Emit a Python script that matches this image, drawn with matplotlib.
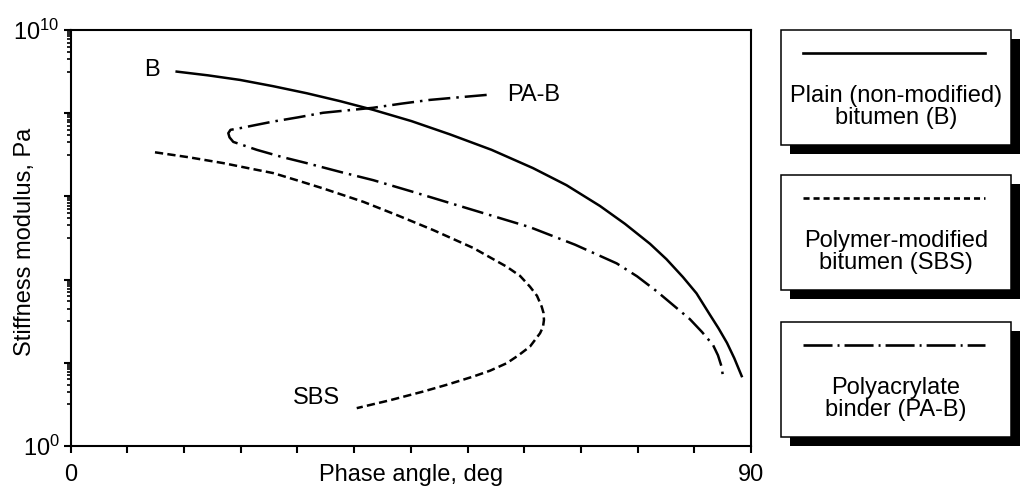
import numpy as np
import matplotlib.pyplot as plt
from matplotlib.patches import Rectangle

plt.rcParams['font.family'] = ['Liberation Sans', 'DejaVu Sans']
plt.rcParams['mathtext.default'] = 'regular'

# phase angle (deg) and log10 of stiffness (Pa)
b_angle = [14.02, 18.16, 22.40, 26.76, 31.22, 35.63, 40.03, 45.08, 50.19, 55.67,
           61.16, 65.59, 70.02, 73.33, 76.64, 78.82, 81.00, 82.79, 84.58, 85.70,
           86.82, 87.79, 88.77]
b_logs = [9.00, 8.91, 8.80, 8.65, 8.48, 8.29, 8.08, 7.81, 7.49, 7.12,
          6.68, 6.27, 5.77, 5.34, 4.86, 4.49, 4.06, 3.67, 3.15, 2.83,
          2.48, 2.11, 1.68]

pab_angle = [55.03, 51.24, 47.53, 43.76, 39.99, 36.68, 33.38, 30.07, 26.80, 24.58,
             22.40, 21.14, 20.85, 21.01, 21.51, 24.61, 27.89, 31.22, 35.63, 40.03,
             45.08, 50.18, 55.47, 60.76, 66.71, 72.23, 74.92, 77.52, 81.91, 83.52,
             84.97, 85.63, 86.12, 86.33]
pab_logs = [8.44, 8.38, 8.32, 8.23, 8.13, 8.07, 8.01, 7.90, 7.80, 7.72,
            7.64, 7.60, 7.52, 7.42, 7.31, 7.12, 6.95, 6.80, 6.59, 6.39,
            6.12, 5.84, 5.55, 5.26, 4.84, 4.39, 4.08, 3.72, 3.05, 2.74,
            2.43, 2.18, 1.90, 1.61]

sbs_angle = [11.15, 15.65, 20.19, 23.46, 26.80, 30.07, 33.42, 38.71, 43.30, 47.97,
             53.26, 57.68, 59.44, 60.76, 61.69, 62.31, 62.55, 62.61, 62.48, 62.09,
             60.76, 59.24, 57.68, 55.47, 53.26, 49.91, 46.65, 42.24, 37.84]
sbs_logs = [7.06, 6.94, 6.80, 6.68, 6.56, 6.38, 6.19, 5.87, 5.54, 5.19,
            4.76, 4.31, 4.09, 3.83, 3.61, 3.35, 3.20, 3.03, 2.86, 2.71,
            2.39, 2.18, 1.99, 1.81, 1.67, 1.48, 1.31, 1.10, 0.91]

legend_texts = ['Plain (non-modified)\nbitumen (B)',
                'Polymer-modified\nbitumen (SBS)',
                'Polyacrylate\nbinder (PA-B)']

W, H = 1021, 488
fs = 17
fig = plt.figure(figsize=(W / 100, H / 100), dpi=100)

# overlay in pixel units for the boxed legend
ov = fig.add_axes([0, 0, 1, 1])
ov.set_xlim(0, W)
ov.set_ylim(H, 0)
ov.axis('off')

ax = fig.add_axes([70.7 / W, (H - 446) / H, (751 - 70.7) / W, (446 - 30) / H])

lw = 1.8
solid_style = '-'
dash_style = (0, (3.3, 1.7))
dashdot_style = (0, (8.8, 2.4, 1.0, 2.4))

ax.plot(b_angle, 10 ** np.array(b_logs), color='black', lw=lw, ls=solid_style,
        solid_joinstyle='round')
ax.plot(pab_angle, 10 ** np.array(pab_logs), color='black', lw=lw, ls=dashdot_style)
ax.plot(sbs_angle, 10 ** np.array(sbs_logs), color='black', lw=lw, ls=dash_style)

ax.set_yscale('log')
ax.set_xlim(0, 90)
ax.set_ylim(1, 1e10)

xt = np.arange(0, 90.1, 7.5)
ax.set_xticks(xt)
ax.set_xticklabels(['0'] + [''] * (len(xt) - 2) + ['90'])

yt = [10.0 ** k for k in range(0, 11, 2)]
ax.set_yticks(yt)
ax.set_yticklabels(['$10^{0}$', '', '', '', '', '$10^{10}$'])
minor = [m * 10.0 ** k for k in range(1, 10, 2) for m in range(1, 10)]
ax.set_yticks(minor, minor=True)
ax.yaxis.set_minor_formatter(plt.NullFormatter())

for s in ax.spines.values():
    s.set_linewidth(1.5)
ax.tick_params(which='major', direction='out', length=5, width=1.5,
               labelsize=fs, pad=3)
ax.tick_params(which='minor', direction='out', length=3, width=1.2)
ax.tick_params(axis='x', pad=8)

ax.set_xlabel('Phase angle, deg', fontsize=fs)
ax.xaxis.set_label_coords(0.5, -0.07)
ax.xaxis.label.set_va('center')
ax.set_ylabel('Stiffness modulus, Pa', fontsize=fs)
ax.yaxis.set_label_coords(-0.067, 0.49)
ax.yaxis.label.set_va('center')

ax.text(10.76, 10 ** 9.04, 'B', fontsize=fs, ha='center', va='center')
ax.text(57.7, 10 ** 8.44, 'PA-B', fontsize=fs, ha='left', va='center')
ax.text(32.5, 10 ** 1.15, 'SBS', fontsize=fs, ha='center', va='center')

# boxed legend entries with drop shadows
box_tops = [30, 175, 321.7]
box_h = 115
box_x0, box_x1 = 780.7, 1011
shadow = 9
leg_styles = [solid_style, (0, (2.3, 1.5)), (0, (11, 1.9, 0.75, 1.9))]
for top, txt, st in zip(box_tops, legend_texts, leg_styles):
    ov.add_patch(Rectangle((box_x0 + shadow, top + shadow), box_x1 - box_x0, box_h,
                           facecolor='black', edgecolor='black', lw=0))
    ov.add_patch(Rectangle((box_x0, top), box_x1 - box_x0, box_h,
                           facecolor='white', edgecolor='black', lw=1.1))
    ov.plot([803, 985], [top + 23, top + 23], color='black', lw=1.9, ls=st)
    ov.text((box_x0 + box_x1) / 2, top + 77, txt, fontsize=fs,
            ha='center', va='center', linespacing=1.0)

fig.savefig('out.png', dpi=100)
